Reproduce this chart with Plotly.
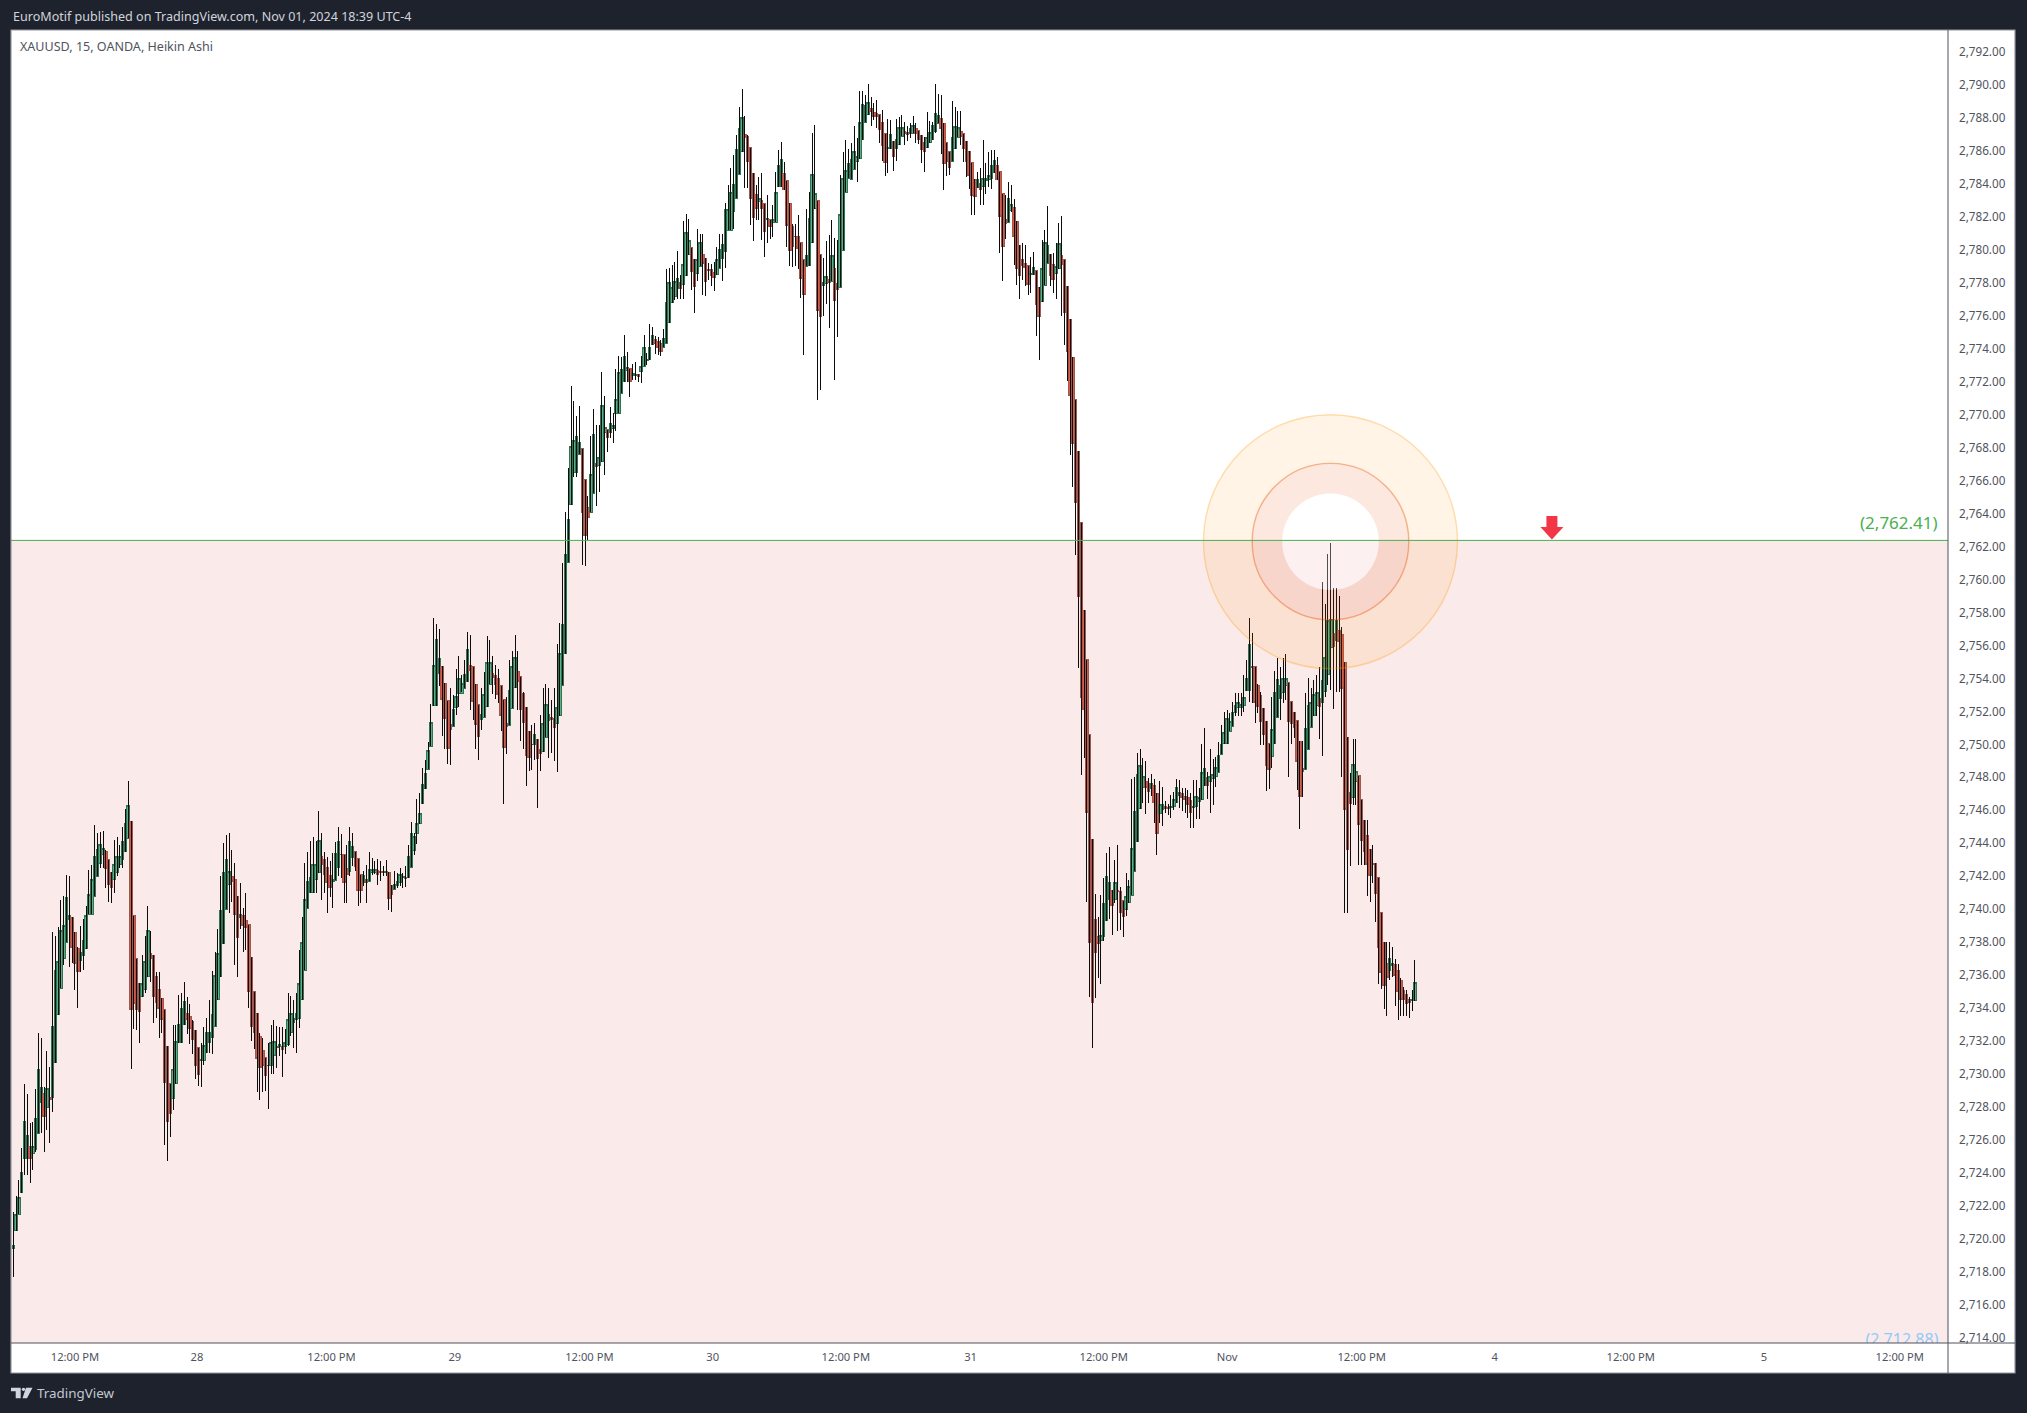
import plotly.graph_objects as go

# XAUUSD 15-minute Heikin Ashi candles
body_top = [
2719.6,2721.5,2722.5,2724.0,2727.1,2726.3,2725.6,2725.6,2727.3,2730.3,2729.2,2728.8,2729.1,2728.6,2732.9,2736.3,2736.8,2738.7,2739.0,2740.7,2739.6,2739.5,2738.6,2737.6,2737.4,2738.1,2739.6,2740.9,2741.8,2743.2,2743.6,2743.9,2743.7,2743.5,2743.0,2742.2,2742.7,2743.2,2743.2,2744.1,2745.2,2746.3,2745.3,2739.6,2737.0,2735.5,2735.5,2736.8,2738.7,2737.3,2737.2,2735.9,2735.15,2734.6,2733.9,2731.7,2729.4,2730.3,2732.0,2733.0,2734.0,2734.4,2733.7,2733.5,2733.2,2732.65,2731.6,2730.9,2731.75,2732.5,2732.5,2733.6,2736.0,2737.3,2739.9,2742.25,2743.0,2742.3,2742.0,2741.8,2740.8,2739.7,2739.6,2739.3,2739.1,2737.1,2735.0,2733.7,2732.3,2731.4,2731.0,2730.5,2731.9,2732.0,2731.7,2731.8,2731.7,2731.9,2733.3,2733.7,2733.4,2733.7,2735.5,
2738.0,2740.6,2741.7,2741.9,2742.7,2742.7,2744.2,2743.2,2743.0,2742.55,2742.05,2741.8,2743.4,2744.1,2743.3,2743.3,2742.5,2744.1,2743.8,2743.5,2743.05,2742.1,2742.05,2741.8,2742.4,2742.4,2742.4,2742.35,2742.3,2742.3,2742.3,2742.25,2741.45,2741.5,2741.7,2742.1,2742.0,2741.95,2743.2,2744.6,2744.4,2745.2,2745.8,2747.55,2748.25,2749.65,2751.35,2754.8,2756.35,2755.2,2754.75,2753.7,2752.65,2751.2,2752.1,2752.9,2754.0,2753.7,2754.25,2755.75,2754.8,2754.7,2753.65,2752.4,2751.8,2753.0,2755.0,2755.0,2754.3,2754.2,2754.0,2753.55,2752.7,2751.25,2753.3,2754.75,2755.3,2754.4,2754.1,2753.1,2752.25,2750.8,2750.0,2750.6,2750.3,2749.7,2751.3,2752.45,2751.8,2751.65,2751.6,2752.25,2755.5,2757.3,2761.5,
2763.65,2768.1,2768.45,2768.7,2768.3,2767.95,2766.05,2764.35,2766.35,2768.8,2767.05,2767.4,2770.55,2769.25,2769.1,2769.5,2769.35,2770.9,2772.55,2772.75,2773.55,2772.9,2772.8,2772.5,2772.45,2772.45,2772.95,2774.1,2773.35,2774.1,2774.8,2774.55,2774.45,2774.3,2774.65,2776.8,2778.05,2777.75,2778.1,2778.3,2778.0,2779.1,2781.05,2780.6,2780.15,2779.45,2779.4,2780.45,2779.75,2779.5,2778.8,2778.8,2778.65,2779.4,2780.05,2780.35,2782.45,2782.45,2783.5,2783.95,2786.1,2787.4,2788.05,2787.0,2786.9,2786.2,2784.65,2783.35,2783.15,2783.0,2782.8,2781.9,2781.85,2781.85,2783.5,2785.1,2785.5,2784.65,2784.2,2782.85,2781.4,2780.85,2780.85,2780.45,2779.4,2779.65,2781.9,2784.6,2783.4,2783.0,2779.7,2778.0,2778.4,
2778.2,2779.65,2778.9,2777.95,2782.15,2784.35,2784.8,2785.25,2785.5,2786.0,2785.7,2787.75,2788.85,2788.75,2788.95,2788.6,2788.35,2788.3,2788.2,2787.75,2787.05,2786.25,2787.0,2786.6,2786.7,2787.45,2787.45,2787.2,2787.15,2787.35,2787.55,2787.4,2787.25,2786.95,2786.55,2786.8,2787.15,2787.55,2788.3,2788.15,2787.95,2787.7,2786.5,2785.95,2786.8,2787.5,2787.45,2787.2,2787.05,2786.6,2786.0,2785.3,2784.3,2784.3,2784.05,2784.35,2784.35,2784.5,2785.1,2785.45,2785.1,2784.75,2783.4,2781.85,2783.15,2782.75,2782.55,2781.75,2780.3,2779.4,2779.2,2779.05,2778.55,2778.95,2778.75,2777.75,2778.9,2780.45,2780.3,2779.75,2779.1,2779.0,2780.4,2779.65,
2779.4,2777.8,2775.8,2773.5,2770.9,2767.8,2763.45,2758.15,2755.15,2750.6,2744.25,
2739.35,2738.35,2738.4,2740.35,2742.0,2741.65,2741.15,2741.65,2741.15,2741.1,2740.5,2740.8,2741.35,2743.7,2745.95,2748.15,2748.7,2748.05,2747.75,2747.6,2747.65,2747.5,2747.05,2746.35,2746.35,2746.25,2746.2,2746.25,2746.65,2747.4,2747.1,2747.0,2746.85,2746.75,2746.6,2746.25,2746.85,2746.75,2748.3,2748.55,2748.0,2748.05,2748.2,2748.6,2749.35,2750.0,2750.75,2751.6,
2751.4,2751.95,2752.35,2752.55,2752.4,2752.85,2754.0,2756.05,2754.7,2754.7,2753.6,2752.95,2752.2,2751.4,2750.05,2750.9,2753.15,2753.95,2753.6,2754.0,2754.0,2753.75,2752.6,2751.95,2751.45,2750.2,2748.55,2750.95,2752.35,2752.55,2753.0,2753.15,2752.8,2753.9,2755.3,2757.55,2757.6,2756.75,2757.55,2756.9,2756.65,2755.0,2750.45,2747.1,2748.8,2748.35,2748.1,2746.65,2745.4,2744.5,2743.65,2742.8,2742.8,2741.9,2739.8,2738.0,2736.7,2737.0,2736.7,2736.65,2736.3,2735.65,2735.05,2734.85,2734.5,2734.5,2735.55,
]
body_bottom = [
2719.4,2720.5,2721.5,2722.8,2724.9,2724.9,2724.9,2725.2,2725.4,2726.4,2728.3,2727.4,2728.0,2728.45,2728.55,2730.7,2733.6,2735.2,2737.0,2738.0,2739.4,2737.7,2736.7,2736.2,2736.9,2737.2,2737.6,2739.7,2739.7,2740.8,2742.0,2742.8,2743.3,2742.5,2741.5,2741.3,2741.8,2742.2,2742.7,2743.0,2743.5,2744.3,2733.9,2734.3,2733.9,2733.8,2734.7,2735.1,2735.9,2737.0,2734.7,2734.35,2734.0,2733.3,2729.5,2727.1,2727.6,2728.5,2729.4,2731.9,2731.9,2733.0,2733.3,2732.75,2732.1,2730.5,2730.0,2730.8,2730.8,2731.3,2731.9,2732.2,2732.9,2734.5,2735.9,2737.9,2740.0,2741.5,2741.7,2739.7,2738.3,2739.5,2739.0,2738.9,2735.0,2732.9,2732.5,2730.95,2730.4,2730.5,2729.9,2730.5,2730.5,2731.1,2731.6,2731.7,2731.5,2731.7,2731.8,2732.5,2733.1,2733.3,2733.4,
2734.5,2736.3,2740.05,2741.0,2741.0,2741.8,2742.2,2742.7,2742.1,2741.6,2741.3,2741.7,2741.75,2742.55,2743.3,2741.6,2742.1,2742.3,2743.15,2742.6,2741.15,2741.15,2741.6,2741.6,2741.7,2742.2,2742.2,2742.1,2742.2,2742.2,2742.2,2740.65,2740.9,2741.2,2741.45,2741.6,2741.9,2741.85,2741.9,2742.55,2743.55,2744.6,2745.2,2746.4,2747.3,2748.5,2749.9,2752.35,2752.35,2754.3,2752.75,2751.55,2749.75,2750.9,2751.1,2752.25,2753.1,2753.1,2753.4,2753.8,2754.5,2752.6,2751.2,2750.5,2751.5,2751.65,2752.3,2753.65,2754.05,2753.65,2753.05,2751.75,2749.8,2751.1,2751.15,2752.2,2753.45,2753.8,2752.1,2751.35,2749.3,2749.2,2750.0,2750.0,2749.15,2749.45,2749.55,2750.45,2751.45,2751.5,2751.0,2751.25,2751.75,2753.6,2755.5,
2761.05,2764.55,2766.5,2766.5,2767.6,2764.05,2762.65,2763.8,2764.1,2765.25,2766.85,2766.9,2767.15,2768.9,2768.65,2768.9,2769.2,2770.1,2770.1,2771.3,2772.0,2772.7,2772.05,2772.4,2772.4,2772.3,2772.6,2772.95,2773.3,2773.35,2774.25,2774.3,2774.1,2773.85,2774.1,2774.35,2775.6,2776.8,2777.2,2777.65,2777.65,2777.9,2778.45,2779.75,2778.7,2777.8,2778.6,2779.0,2779.2,2778.1,2778.75,2778.45,2778.35,2778.5,2778.9,2779.5,2779.9,2781.2,2781.2,2782.35,2783.15,2784.6,2785.95,2786.85,2785.35,2783.15,2782.0,2782.5,2782.95,2782.5,2781.1,2781.85,2781.4,2781.7,2781.7,2783.85,2783.85,2783.65,2781.5,2780.0,2780.2,2780.8,2780.1,2778.25,2777.3,2779.0,2779.05,2780.45,2782.5,2776.35,2775.95,2777.85,2777.95,
2778.05,2778.1,2776.95,2777.6,2777.75,2780.0,2783.5,2784.35,2784.3,2784.9,2785.4,2785.55,2786.7,2787.75,2788.2,2788.4,2788.1,2788.1,2787.3,2786.35,2785.3,2786.15,2786.15,2785.7,2786.15,2786.4,2786.9,2787.1,2787.0,2787.1,2787.1,2787.1,2786.7,2786.1,2786.0,2786.2,2786.5,2786.7,2787.2,2787.7,2787.35,2785.25,2785.35,2785.0,2785.4,2786.15,2786.85,2786.9,2786.15,2785.4,2784.55,2783.3,2783.25,2783.8,2783.7,2783.85,2784.2,2784.25,2784.35,2784.7,2784.25,2782.05,2780.2,2781.6,2781.7,2782.4,2780.8,2778.85,2778.45,2779.05,2778.95,2777.9,2778.5,2778.5,2776.7,2775.95,2776.85,2777.85,2779.2,2778.45,2778.2,2778.6,2778.85,2779.15,
2776.2,2773.85,2771.15,2768.25,2764.65,2758.95,2752.85,2752.15,2745.9,2738.0,2734.35,
2737.4,2737.95,2738.1,2738.35,2739.3,2740.6,2740.25,2740.6,2741.1,2739.8,2739.55,2740.0,2740.4,2740.85,2742.3,2744.1,2746.1,2747.4,2747.4,2747.15,2747.35,2746.5,2744.6,2745.8,2746.05,2746.1,2746.1,2746.2,2746.25,2746.45,2746.9,2746.75,2746.65,2746.35,2745.85,2746.2,2746.25,2746.55,2746.65,2747.5,2747.5,2747.75,2747.95,2748.05,2748.3,2749.4,2750.05,2750.05,
2750.8,2751.1,2751.95,2752.25,2752.25,2752.35,2753.25,2753.25,2754.65,2752.55,2752.3,2751.4,2750.6,2748.75,2748.5,2749.25,2750.05,2751.65,2752.8,2753.15,2753.55,2751.4,2751.25,2751.0,2748.95,2746.85,2748.35,2748.5,2749.7,2751.05,2751.75,2752.35,2752.3,2752.55,2753.2,2754.25,2755.9,2755.95,2756.3,2756.25,2753.4,2746.05,2743.6,2746.4,2746.75,2747.75,2745.15,2744.15,2743.5,2742.7,2742.05,2742.7,2740.95,2737.7,2736.15,2735.4,2735.85,2736.3,2736.6,2735.95,2735.0,2734.5,2734.5,2734.3,2734.35,2734.45,2734.45,
]
wick_high = [
2721.6,2722.6,2723.6,2725.5,2729.4,2728.8,2727.0,2727.1,2729.1,2732.5,2732.2,2729.2,2731.4,2730.4,2738.6,2738.4,2738.9,2740.55,2740.8,2742.1,2742.0,2739.5,2738.6,2737.7,2739.0,2739.4,2740.2,2742.4,2742.7,2745.1,2744.6,2744.7,2744.75,2743.6,2743.0,2742.25,2744.2,2744.4,2743.9,2745.0,2746.1,2747.8,2745.35,2739.6,2737.0,2735.5,2737.2,2738.4,2740.2,2738.7,2737.2,2736.2,2736.2,2734.6,2733.9,2731.7,2729.4,2733.0,2733.0,2734.8,2734.9,2735.6,2734.7,2734.25,2733.3,2732.65,2731.6,2731.9,2732.85,2733.4,2734.5,2736.25,2737.4,2738.8,2742.0,2744.0,2744.5,2744.6,2743.6,2742.8,2740.8,2741.6,2740.1,2741.0,2739.05,2737.1,2735.0,2733.7,2732.5,2732.2,2731.0,2731.9,2733.0,2733.3,2732.9,2732.85,2732.85,2732.75,2734.9,2734.75,2734.5,2734.9,2737.5,
2739.55,2742.8,2743.45,2744.15,2744.4,2744.15,2745.95,2744.6,2743.5,2743.2,2742.9,2743.4,2744.05,2745.0,2744.55,2743.3,2743.9,2745.0,2744.6,2743.5,2743.05,2742.1,2742.35,2742.7,2743.5,2743.1,2742.9,2743.05,2742.9,2742.6,2743.0,2742.25,2741.45,2742.35,2742.2,2742.5,2742.2,2742.6,2743.9,2745.3,2744.6,2746.7,2747.05,2748.55,2749.05,2750.15,2752.45,2757.7,2757.3,2757.0,2754.75,2753.7,2752.65,2753.4,2753.0,2754.6,2755.35,2754.2,2755.1,2756.8,2756.65,2754.7,2753.65,2752.4,2753.45,2754.4,2756.6,2756.35,2755.35,2754.85,2754.55,2753.55,2752.7,2752.9,2755.15,2755.65,2756.65,2755.65,2754.1,2753.2,2752.25,2750.8,2751.15,2751.3,2750.3,2751.8,2753.45,2753.65,2753.4,2752.7,2753.45,2756.1,2757.35,2761.0,2764.1,
2766.75,2771.75,2770.85,2769.9,2770.55,2767.95,2766.05,2765.1,2768.7,2770.35,2769.4,2769.4,2772.6,2771.15,2769.1,2770.5,2770.1,2772.8,2773.55,2773.5,2774.85,2773.8,2772.8,2773.1,2773.2,2772.45,2773.55,2774.85,2773.75,2775.5,2775.35,2774.8,2774.75,2774.55,2775.2,2778.85,2778.9,2779.1,2779.25,2779.95,2778.5,2781.75,2782.2,2781.9,2780.15,2779.45,2781.25,2781.0,2781.0,2779.5,2779.2,2779.15,2779.25,2780.2,2781.0,2781.0,2782.85,2783.95,2785.0,2785.75,2787.0,2788.65,2789.8,2788.15,2787.0,2786.2,2784.65,2783.95,2784.45,2784.7,2782.8,2783.35,2781.85,2782.75,2784.75,2786.05,2786.55,2785.35,2784.2,2782.85,2781.55,2781.55,2782.1,2780.45,2779.4,2782.5,2783.5,2787.1,2787.6,2783.0,2779.7,2779.5,2780.55,
2780.9,2781.85,2780.7,2780.6,2784.55,2785.95,2786.7,2786.15,2786.5,2787.55,2786.8,2789.65,2789.65,2789.4,2790.05,2789.3,2788.9,2789.1,2788.2,2788.5,2787.05,2787.95,2787.9,2786.6,2787.95,2788.1,2788.2,2787.75,2787.5,2787.7,2788.15,2787.7,2787.25,2786.95,2786.85,2788.35,2787.8,2787.75,2790.1,2789.45,2789.4,2787.7,2786.5,2785.95,2789.05,2788.65,2788.45,2788.45,2787.05,2786.6,2786.0,2785.3,2784.3,2784.75,2785.0,2786.7,2785.25,2785.95,2786.05,2786.05,2785.65,2784.75,2783.4,2783.35,2784.15,2783.95,2783.1,2781.75,2780.3,2780.4,2780.3,2779.05,2779.6,2779.85,2778.75,2777.75,2780.6,2781.2,2782.65,2779.75,2779.8,2780.4,2781.65,2782.05,
2779.4,2777.8,2775.8,2773.5,2770.9,2767.8,2763.45,2758.15,2755.15,2750.6,2744.25,
2740.95,2739.5,2740.85,2741.9,2743.4,2743.8,2741.15,2743.0,2743.9,2741.35,2740.5,2742.2,2741.8,2747.9,2748.0,2749.45,2749.75,2749.15,2749.0,2747.95,2748.2,2747.9,2747.05,2747.8,2747.4,2746.55,2746.4,2746.95,2747.1,2747.9,2747.85,2747.35,2747.35,2747.25,2747.05,2747.85,2747.85,2747.35,2750.0,2751.0,2748.35,2749.7,2749.1,2749.25,2750.15,2751.2,2751.95,2752.1,
2751.9,2752.55,2753.1,2753.1,2753.1,2754.2,2755.15,2757.7,2756.75,2754.7,2753.65,2753.2,2752.2,2751.4,2750.05,2752.9,2754.45,2755.25,2754.7,2755.25,2755.5,2753.75,2752.6,2751.95,2751.45,2750.2,2750.2,2753.1,2754.05,2753.4,2753.9,2754.2,2754.7,2759.85,2758.5,2761.55,2762.2,2759.5,2759.5,2759.0,2757.1,2755.0,2750.45,2748.25,2750.3,2750.3,2748.1,2746.65,2745.4,2745.4,2743.65,2743.9,2742.8,2741.9,2739.8,2738.0,2738.0,2738.0,2737.7,2737.0,2736.7,2735.85,2735.3,2735.1,2734.7,2735.1,2736.9,
]
wick_low = [
2717.7,2720.5,2721.5,2722.8,2723.9,2723.9,2723.4,2724.2,2725.3,2726.4,2726.4,2725.3,2726.6,2725.8,2727.7,2730.7,2733.6,2735.2,2736.6,2738.0,2736.5,2736.75,2735.1,2734.0,2736.2,2736.3,2737.6,2739.7,2739.7,2740.8,2742.0,2742.5,2742.5,2741.3,2740.45,2740.4,2741.0,2742.0,2742.5,2742.5,2743.5,2744.3,2730.3,2732.75,2732.65,2731.9,2734.7,2734.9,2735.9,2735.6,2733.1,2733.4,2732.2,2732.5,2725.7,2724.75,2726.2,2727.8,2729.4,2731.9,2731.9,2733.0,2732.45,2731.8,2731.2,2729.7,2729.3,2729.2,2730.55,2731.25,2731.3,2731.2,2732.9,2734.5,2735.9,2737.9,2740.0,2739.8,2740.45,2736.6,2735.9,2738.8,2737.4,2737.5,2734.0,2732.0,2731.5,2728.9,2728.45,2728.9,2729.0,2727.9,2730.0,2730.0,2730.35,2731.1,2729.8,2731.2,2731.7,2732.3,2731.6,2731.3,2732.8,
2734.5,2736.3,2740.05,2741.0,2741.0,2741.0,2742.2,2740.55,2741.0,2739.75,2740.75,2740.05,2741.75,2742.0,2741.9,2740.35,2740.4,2742.0,2742.6,2742.3,2740.2,2740.4,2741.4,2740.35,2741.7,2742.1,2742.15,2741.45,2741.7,2742.0,2742.0,2739.95,2739.85,2741.2,2741.3,2741.4,2741.3,2741.35,2741.9,2742.55,2743.3,2743.95,2745.2,2746.4,2747.3,2748.5,2749.9,2752.35,2752.35,2753.55,2750.5,2749.75,2748.8,2748.75,2751.1,2751.8,2752.25,2753.2,2753.4,2753.8,2752.1,2751.5,2749.75,2749.05,2750.85,2751.65,2752.3,2753.65,2753.05,2752.75,2752.5,2750.8,2746.4,2749.4,2751.15,2752.2,2753.45,2752.1,2750.2,2749.75,2747.45,2748.4,2748.45,2749.05,2746.15,2748.4,2749.55,2750.45,2749.15,2749.45,2749.0,2748.3,2751.75,2753.6,2755.5,
2761.05,2764.55,2766.2,2766.25,2767.6,2760.9,2760.85,2762.4,2764.1,2765.25,2764.45,2765.3,2767.15,2766.35,2767.75,2768.6,2768.3,2769.0,2770.1,2771.3,2772.0,2772.0,2771.1,2772.1,2772.1,2772.0,2771.95,2772.95,2773.0,2773.35,2774.25,2773.7,2773.6,2773.55,2774.1,2774.35,2775.6,2776.8,2776.95,2777.0,2777.05,2777.0,2778.45,2779.7,2777.55,2776.2,2778.1,2779.0,2777.25,2777.2,2778.2,2777.8,2777.5,2778.5,2778.9,2778.1,2778.9,2781.2,2781.2,2781.3,2783.15,2784.6,2785.95,2783.75,2783.75,2781.5,2780.55,2781.85,2781.85,2780.6,2779.6,2780.4,2780.65,2780.8,2781.7,2783.85,2783.85,2783.65,2780.2,2779.05,2778.95,2779.05,2778.85,2777.1,2773.65,2779.0,2779.05,2780.45,2782.5,2770.9,2771.5,2776.0,2776.75,
2775.25,2778.1,2772.1,2774.75,2777.75,2780.0,2783.5,2784.35,2784.3,2784.9,2784.1,2785.55,2786.7,2787.75,2788.2,2787.5,2787.9,2787.4,2786.5,2785.4,2784.5,2784.7,2786.15,2784.8,2785.4,2786.4,2786.9,2786.35,2786.6,2786.8,2787.1,2786.5,2786.45,2785.3,2784.75,2786.2,2786.5,2786.7,2787.1,2787.7,2785.85,2783.65,2784.5,2784.55,2785.4,2786.15,2786.85,2786.4,2785.35,2784.45,2783.7,2782.1,2782.1,2783.75,2782.75,2782.75,2783.4,2783.85,2783.7,2784.7,2784.25,2779.8,2778.15,2780.65,2781.7,2782.3,2779.1,2777.9,2777.05,2778.2,2777.8,2777.3,2777.4,2778.5,2774.8,2773.35,2776.85,2777.85,2779.2,2777.8,2777.4,2777.05,2778.85,2776.0,
2774.25,2772.05,2767.55,2765.65,2761.5,2754.65,2748.15,2749.15,2740.45,2734.7,2731.6,
2734.6,2735.85,2735.45,2738.1,2739.3,2739.4,2738.45,2740.35,2738.7,2738.75,2738.3,2739.6,2740.4,2740.85,2742.3,2744.1,2746.1,2746.45,2745.8,2746.45,2746.85,2745.25,2743.3,2745.25,2745.05,2745.85,2745.7,2745.55,2746.0,2746.45,2746.15,2745.95,2745.85,2745.55,2744.95,2744.95,2745.5,2745.5,2746.65,2747.5,2746.7,2745.85,2746.35,2747.4,2748.3,2749.4,2750.05,2750.05,
2750.8,2751.1,2751.7,2751.75,2751.75,2751.95,2753.25,2752.55,2752.5,2751.3,2751.9,2749.95,2749.95,2747.2,2747.3,2748.6,2750.05,2751.65,2751.5,2752.5,2752.7,2748.05,2750.05,2750.4,2747.25,2744.85,2746.8,2748.5,2749.7,2751.05,2751.75,2751.7,2750.3,2749.3,2752.9,2753.6,2753.3,2752.15,2753.2,2753.2,2748.05,2739.75,2739.8,2742.65,2746.35,2746.3,2742.7,2742.7,2742.7,2740.8,2740.45,2741.6,2739.25,2735.45,2735.15,2733.95,2733.55,2735.7,2735.9,2734.15,2733.25,2733.55,2733.55,2733.5,2733.4,2733.8,2734.45,
]
candle_dir = (
    "UUUUUU D UUUU D U D UUUUUUU DDD UUUUUUUUU DDD UUUUUU DDDD UUU DDDDDDDD UUUUU DDDDD UUUUUUUUUUU DDD U DDDDDDDDD UUUUU D UUUUUU "
    "UU UUUUU DDDD UUUU DD UU DDD U D UUU DDD U DD UUUU D UUUUUUUUUUUU DDDD UUUUUU DDDD UUUU DDDDDD UUU DDDDD UU DD UUU DD UUUU "
    "UUUUU DDD UU D UUU D UUUUUUU D UU D UUUUU DDD UUUUUU D UUU DD UU DDDDD UUUUUUUUUU DDDDD U DD U D UUUU DDDDDDDD UUUU DD UU "
    "D U DD UUUUUUUUUUU DDDDDD UU D UUU DD UU DDDD UUUUU DDDD UUU DDDDDD U D UUUUU DDDD UU DDDDDD UU DD UUU DD UU D "
    "DDDDDDDDDDD "
    "DD UUUU D U DDD UUUUUUU DD U DD UU DD UUUU DDDD UUUUU D UUUUUUU "
    "UUUUUUUU DDDDDDD UUUUUU DDDDDD UUUUU D UUUU D U DDDDD UU DDDDDDDDDDD UU DDDDDD UU"
).replace(" ", "")

price_ticks = [2714 + 2 * i for i in range(40)]
time_tick_bars = [22, 65.5, 113.5, 157.5, 205.5, 249.5, 297, 341.5, 389, 433, 481, 528.5, 577, 624.5, 673]
time_tick_text = ["12:00 PM", "28", "12:00 PM", "29", "12:00 PM", "30", "12:00 PM", "31",
                  "12:00 PM", "Nov", "12:00 PM", "4", "12:00 PM", "5", "12:00 PM"]
resistance = 2762.41
lower_level = 2712.88
lower_label_price = 2714.29   # the off-range level's label sits at the bottom edge and is clipped there
circle_bar, circle_price = 469.9, 2762.3
arrow_bar = 548.9

assert all(len(a) == len(candle_dir) for a in (body_top, body_bottom, wick_high, wick_low)), \
    (len(body_top), len(body_bottom), len(wick_high), len(wick_low), len(candle_dir))

bars = list(range(len(candle_dir)))
opens = [b if d == "U" else t for t, b, d in zip(body_top, body_bottom, candle_dir)]
closes = [t if d == "U" else b for t, b, d in zip(body_top, body_bottom, candle_dir)]

W, H = 2027, 1413
L, R, T, B = 11, 1948, 30, 1343
FONT = "Noto Sans"
DARK = "#1e222d"
AXIS = "#50535e"


def fx(p):
    return (p - L) / (R - L)


def fy(p):
    return 1 - (p - T) / (B - T)


def circle_path(r):
    k = 0.5523 * r
    return (f"M {-r} 0 C {-r} {k} {-k} {r} 0 {r} C {k} {r} {r} {k} {r} 0 "
            f"C {r} {-k} {k} {-r} 0 {-r} C {-k} {-r} {-r} {-k} {-r} 0 Z ")


def anchored(path, fill, line, x=circle_bar, y=circle_price, width=1.4):
    return dict(type="path", xref="x", yref="y", xsizemode="pixel", ysizemode="pixel",
                xanchor=x, yanchor=y, path=path, fillcolor=fill, layer="above",
                line=dict(color=line, width=width))


def prect(x0, y0, x1, y1, fill="rgba(0,0,0,0)", line="rgba(0,0,0,0)", width=1):
    return dict(type="rect", xref="paper", yref="paper", x0=fx(x0), x1=fx(x1), y0=fy(y0), y1=fy(y1),
                fillcolor=fill, line=dict(color=line, width=width), layer="below")


fig = go.Figure()
fig.add_trace(go.Ohlc(
    x=bars, open=opens, close=closes, high=wick_high, low=wick_low, tickwidth=0,
    increasing=dict(line=dict(color="#0c0c0c", width=1)),
    decreasing=dict(line=dict(color="#0c0c0c", width=1)),
    hoverinfo="skip", showlegend=False))
fig.add_trace(go.Candlestick(
    x=bars, open=opens, close=closes, high=[max(o, c) for o, c in zip(opens, closes)],
    low=[min(o, c) for o, c in zip(opens, closes)], whiskerwidth=0,
    increasing=dict(line=dict(color="#2f7454", width=1), fillcolor="#5fae86"),
    decreasing=dict(line=dict(color="#a0574f", width=1), fillcolor="#dc5a42"),
    hoverinfo="skip", showlegend=False))
fig.add_trace(go.Scatter(
    x=[686.8], y=[lower_label_price], mode="text", text=["(2,712.88)"], textposition="bottom left",
    textfont=dict(family=FONT, size=16, color="#90caf9"), cliponaxis=True,
    hoverinfo="skip", showlegend=False))

shapes = [
    prect(L, T, 2015, 1373, fill="#ffffff"),
    dict(type="rect", xref="paper", yref="y", x0=0, x1=1, y0=lower_level, y1=resistance,
         fillcolor="#fbeaea", line=dict(width=0), layer="below"),
    anchored(circle_path(127) + circle_path(78.3), "rgba(255,152,0,0.1)", "rgba(255,152,0,0)", width=0),
    anchored(circle_path(127), "rgba(255,152,0,0)", "rgba(255,152,0,0.3)"),
    anchored(circle_path(78.3) + circle_path(48.3), "rgba(230,81,0,0.13)", "rgba(0,0,0,0)", width=0),
    anchored(circle_path(78.3), "rgba(230,81,0,0)", "rgba(230,81,0,0.4)"),
    anchored(circle_path(48.3), "rgba(255,255,255,0.28)", "rgba(0,0,0,0)", width=0),
    dict(type="line", xref="paper", yref="y", x0=0, x1=1, y0=resistance - 0.03, y1=resistance - 0.03,
         line=dict(color="#4caf50", width=1), layer="above"),
    anchored("M -5.5 24 L 5.5 24 L 5.5 13 L 11.5 13 L 0 0.5 L -11.5 13 L -5.5 13 Z",
             "#f23645", "rgba(0,0,0,0)", x=arrow_bar, y=resistance, width=0),
    prect(L, T, 2015, 1373, line="#9598a1", width=1.2),
    dict(type="line", xref="paper", yref="paper", x0=0, x1=fx(2015), y0=fy(B), y1=fy(B),
         line=dict(color=AXIS, width=1)),
    dict(type="line", xref="paper", yref="paper", x0=1, x1=1, y0=fy(1373), y1=1,
         line=dict(color=AXIS, width=1)),
    # TradingView logo
    dict(type="path", xref="paper", yref="paper",
         path=" ".join([
             f"M {fx(11)} {fy(1387.7)} L {fx(20.7)} {fy(1387.7)} L {fx(20.7)} {fy(1398.3)} "
             f"L {fx(15.7)} {fy(1398.3)} L {fx(15.7)} {fy(1391.2)} L {fx(11)} {fy(1391.2)} Z",
             f"M {fx(26)} {fy(1387.7)} L {fx(32.5)} {fy(1387.7)} L {fx(27)} {fy(1398.3)} L {fx(22.5)} {fy(1398.3)} Z",
         ]), fillcolor="#d1d4dc", line=dict(width=0)),
    dict(type="circle", xref="paper", yref="paper", x0=fx(21.8), x1=fx(25.2), y0=fy(1391), y1=fy(1387.7),
         fillcolor="#d1d4dc", line=dict(width=0)),
]


def note(text, x, y, size, color):
    return dict(text=text, xref="paper", yref="paper", x=fx(x), y=fy(y), xanchor="left", yanchor="middle",
                showarrow=False, font=dict(family=FONT, size=size, color=color))


fig.update_layout(
    width=W, height=H, autosize=False,
    margin=dict(l=L, r=W - R, t=T, b=H - B, pad=0),
    paper_bgcolor=DARK, plot_bgcolor="#ffffff", showlegend=False,
    boxmode="overlay", boxgap=0.1, boxgroupgap=0,
    shapes=shapes,
    annotations=[
        note("EuroMotif published on TradingView.com, Nov 01, 2024 18:39 UTC-4", 11, 16, 12.55, "#d1d4dc"),
        note("XAUUSD, 15, OANDA, Heikin Ashi", 18, 46, 12.55, "#50535e"),
        note("TradingView", 35, 1393, 13.4, "#c5c8d0"),
        dict(text="(2,762.41)", xref="x", yref="y", x=687.2, y=resistance, xanchor="right", yanchor="bottom",
             yshift=4, showarrow=False, font=dict(family=FONT, size=17, color="#4caf50")),
    ],
    xaxis=dict(range=[-0.82, 690.2], rangeslider=dict(visible=False), showgrid=False, zeroline=False,
               showline=False, ticks="", tickmode="array", tickvals=time_tick_bars, ticktext=time_tick_text,
               tickangle=0, tickfont=dict(family=FONT, size=11.2, color=AXIS), ticklabelstandoff=6),
    yaxis=dict(range=[2713.68, 2793.35], side="right", showgrid=False, zeroline=False, showline=False,
               ticks="", tickmode="array", tickvals=price_ticks, tickformat=",.2f",
               tickfont=dict(family=FONT, size=11.7, color=AXIS), ticklabelstandoff=10),
)

crisp = ("document.body.style.margin='0';"
         "document.querySelectorAll('.boxes path, .ohlc path').forEach("
         "function(p){p.style.shapeRendering='crispEdges';});")
fig.write_html("out.html", config={"displayModeBar": False}, post_script=crisp)
